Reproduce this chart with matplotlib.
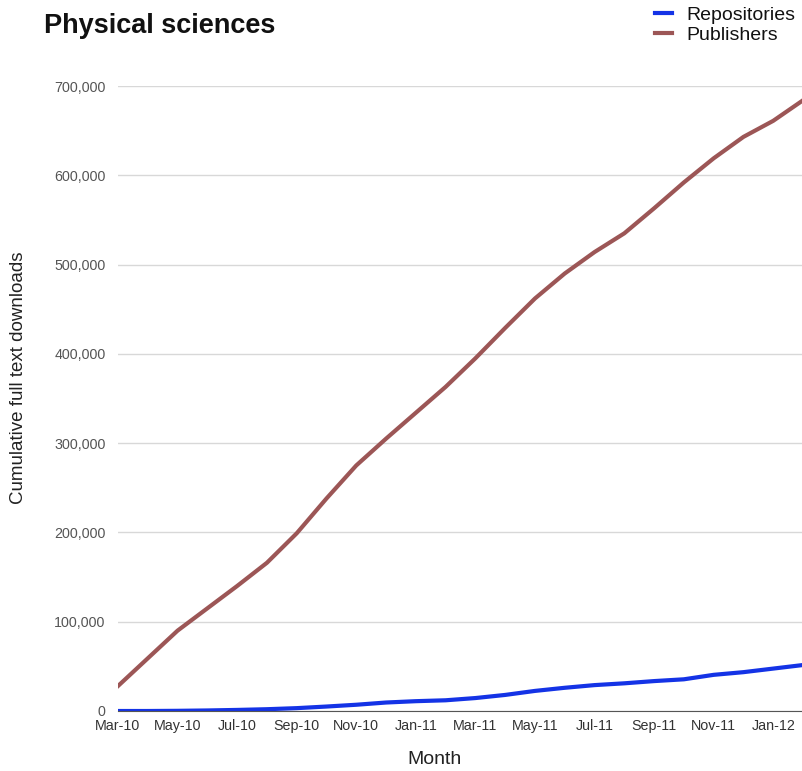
import matplotlib
matplotlib.use("Agg")
import matplotlib.pyplot as plt
from matplotlib.ticker import FuncFormatter

plt.rcParams['font.family'] = ['Liberation Sans', 'DejaVu Sans']

months = ["Mar-10", "Apr-10", "May-10", "Jun-10", "Jul-10", "Aug-10", "Sep-10", "Oct-10",
          "Nov-10", "Dec-10", "Jan-11", "Feb-11", "Mar-11", "Apr-11", "May-11", "Jun-11",
          "Jul-11", "Aug-11", "Sep-11", "Oct-11", "Nov-11", "Dec-11", "Jan-12", "Feb-12"]
repositories = [0, 0, 200, 600, 1200, 2000, 3200, 5000, 7000, 9500, 11000, 12000, 14500,
                18000, 22500, 26000, 29000, 31000, 33500, 35500, 40500, 43500, 47500, 51500]
publishers = [28000, 59000, 90000, 115000, 140000, 166000, 199000, 238000, 275000, 305000,
              334000, 363000, 395000, 429000, 462000, 490000, 514000, 535000, 563000, 592000,
              619000, 643000, 661000, 684000]
yticks = [0, 100000, 200000, 300000, 400000, 500000, 600000, 700000]

fig = plt.figure(figsize=(8.03, 7.71), dpi=100)
ax = fig.add_axes([118/803, 1-711/771, 1-118/803, (711-86)/771])

x = list(range(len(months)))
ax.plot(x, repositories, color='#1433e6', lw=3.0, label='Repositories', zorder=3)
ax.plot(x, publishers, color='#9c5656', lw=3.0, label='Publishers', zorder=3)

ax.set_xlim(0, len(months) - 1)
ax.set_ylim(0, 700000)
ax.set_yticks(yticks)
ax.yaxis.set_major_formatter(FuncFormatter(lambda v, p: f"{int(v):,}"))
ax.set_xticks(x[:-1:2])
ax.set_xticklabels(months[:-1:2])
ax.grid(axis='y', color='#d8d8d8', lw=1)
ax.set_axisbelow(True)
for s in ['top', 'right', 'left']:
    ax.spines[s].set_visible(False)
ax.spines['bottom'].set_color('#555555')
ax.spines['bottom'].set_zorder(4)
ax.tick_params(axis='both', length=0, labelsize=10.3, colors='#555555')
ax.tick_params(axis='x', pad=6, labelcolor='#333333')
ax.tick_params(axis='y', pad=9)

ax.set_xlabel('Month', fontsize=14, color='#222222', va='center', ha='center')
ax.xaxis.set_label_coords((435-118)/685, -(760-711)/625)
ax.set_ylabel('Cumulative full text downloads', fontsize=13.5, color='#222222',
              va='center', ha='center')
ax.yaxis.set_label_coords(-(118-19)/685, (711-378)/625)

fig.text(44/803, 1-33/771, 'Physical sciences', fontsize=19.5, fontweight='bold',
         va='baseline', ha='left', color='#111111')

leg = fig.legend(loc='upper left', bbox_to_anchor=(645/803, 1.004), frameon=False,
                 fontsize=14, handlelength=0.9, handletextpad=0.75, labelspacing=0.12,
                 borderaxespad=0.1)
for t in leg.get_texts():
    t.set_color('#111111')

fig.savefig('out.png', dpi=100)
